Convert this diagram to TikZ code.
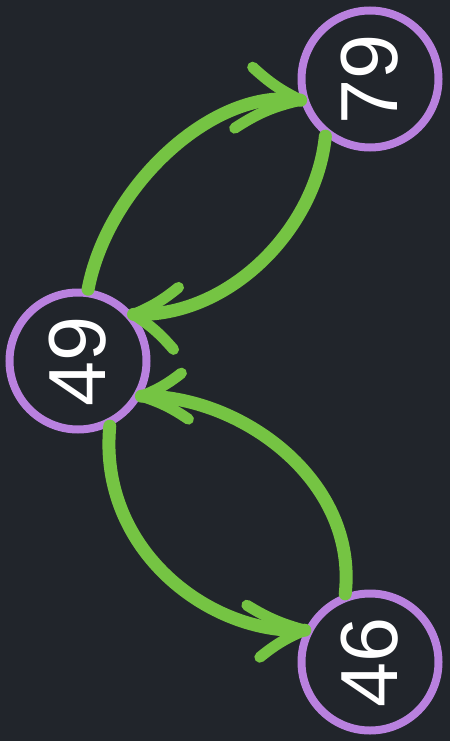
\documentclass[tikz,border=0pt]{standalone}
\usepackage{fontspec}
\setmainfont{Liberation Sans}
\definecolor{bgc}{HTML}{21252B}
\definecolor{ringc}{HTML}{B981DF}
\definecolor{edgec}{HTML}{75C443}
\begin{document}
\begin{tikzpicture}[x=1pt,y=-1pt,
  vert/.style={circle,draw=ringc,line width=8pt,minimum size=137pt,inner sep=0pt,
    text=white,font=\fontsize{81}{81}\selectfont},
  shaft/.style={draw=edgec,line width=13pt,line cap=round},
  barb/.style={draw=edgec,line width=11pt,line cap=round}]
\fill[bgc] (0,0) rectangle (450,741);
\useasboundingbox (0,0) rectangle (450,741);
\node[vert] (n79) at (370,79) {\rotatebox{90}{79}};
\node[vert] (n49) at (78,361) {\rotatebox{90}{49}};
\node[vert] (n46) at (370,662) {\rotatebox{90}{46}};
% 49 -> 79
\draw[shaft] (n49.82) .. controls (108,185) and (215,86) .. (n79.197);
\draw[barb] (n79.197) to[bend left=8] ++(-48,-33);
\draw[barb] (n79.197) to[bend right=10] ++(-66,28);
% 79 -> 49
\draw[shaft] (n79.232) .. controls (316,230) and (228,318) .. (n49.40);
\draw[barb] (n49.40) to[bend right=8] ++(45,-27);
\draw[barb] (n49.40) to[bend left=8] ++(40,35);
% 46 -> 49
\draw[shaft] (n46.110) .. controls (358,480) and (240,395) .. (n49.-29);
\draw[barb] (n49.-29) to[bend right=8] ++(40,-23);
\draw[barb] (n49.-29) to[bend left=8] ++(47,23);
% 49 -> 46
\draw[shaft] (n49.-64) .. controls (98,550) and (210,635) .. (n46.154);
\draw[barb] (n46.154) to[bend left=8] ++(-58,-25);
\draw[barb] (n46.154) to[bend right=8] ++(-45,27);
\end{tikzpicture}
\end{document}
